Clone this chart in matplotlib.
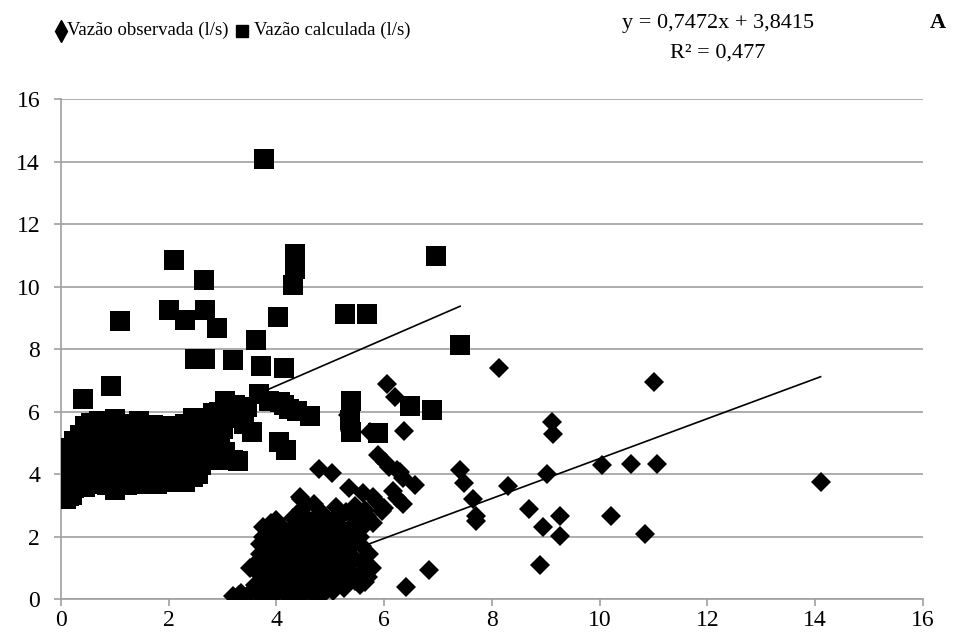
import matplotlib
matplotlib.use("Agg")
import matplotlib.pyplot as plt
from matplotlib.lines import Line2D
import numpy as np

plt.rcParams['font.family'] = ['Liberation Serif', 'DejaVu Serif']

# ---------- DATA (l/s) ----------
# each pair: observed flow, calculated flow
vazao_obs = [
    # scattered points
    7.41, 6.88, 6.48, 5.38, 5.68, 5.28, 4.62, 4.39, 4.24, 4.06,
    3.67, 4.17, 4.04, 3.55, 4.14, 3.72, 3.20, 2.67, 2.49, 3.62,
    4.02, 2.90, 2.31, 2.68, 2.01, 1.10, 0.93, 0.40, 6.96, 4.31,
    4.34, 4.34, 2.65, 2.10, 3.76, 3.45, 3.05, 2.93, 2.54, 3.20,
    2.86, 2.67, 2.39, 3.26, 5.36, 5.39, 5.89, 3.39, 3.12, 3.23,
    2.80, 2.54, 2.22, 1.90, 2.45, 2.83, 3.28, 4.14, 3.87,
    2.75, 2.95, 3.05, 2.70, 3.00, 2.85,
    # dense group
    0.10, 0.10, 0.10, 0.10, 0.10, 0.10, 0.10,
    0.15, 0.15, 0.15, 0.15,
    0.20, 0.20, 0.20,
    0.25, 0.25, 0.25, 0.25,
    0.30, 0.30, 0.30,
    0.35, 0.35, 0.35, 0.35,
    0.40, 0.40, 0.40,
    0.45, 0.45, 0.45, 0.45,
    0.50, 0.50, 0.50,
    0.55, 0.55, 0.55, 0.55, 0.55,
    0.60, 0.60, 0.60, 0.60,
    0.70, 0.70, 0.70, 0.70, 0.70,
    0.78, 0.78, 0.78,
    0.85, 0.85, 0.85, 0.85, 0.85,
    0.92, 0.92, 0.92, 0.92,
    1.00, 1.00, 1.00, 1.00, 1.00, 1.00,
    1.08, 1.08, 1.08,
    1.15, 1.15, 1.15, 1.15, 1.15,
    1.22, 1.22, 1.22, 1.22,
    1.30, 1.30, 1.30, 1.30,
    1.38, 1.38, 1.38,
    1.45, 1.45, 1.45, 1.45, 1.45,
    1.52, 1.52, 1.52,
    1.60, 1.60, 1.60, 1.60,
    1.65, 1.65, 1.65,
    1.70, 1.70, 1.70, 1.70,
    1.78, 1.78, 1.78, 1.78,
    1.85, 1.85, 1.85, 1.85,
    1.92, 1.92,
    2.00, 2.00, 2.00, 2.00, 2.00,
    2.08, 2.08, 2.08,
    2.15, 2.15, 2.15, 2.15,
    2.22, 2.22,
    2.30, 2.30, 2.30, 2.30, 2.30,
    2.38, 2.38,
    2.45, 2.45, 2.45, 2.45,
    2.55, 2.55, 2.55,
    2.60, 2.60,
]
vazao_calc = [
    8.13, 6.05, 6.20, 6.36, 9.12, 9.14, 5.88, 6.01, 6.09, 6.30,
    6.57, 4.79, 5.04, 5.35, 7.41, 7.48, 7.65, 7.70, 7.70, 8.29,
    9.03, 8.68, 8.95, 9.27, 9.27, 8.90, 6.84, 6.40, 11.00, 10.05,
    10.58, 11.06, 10.21, 10.85, 14.10, 6.16, 6.35, 6.00, 4.68, 4.45,
    4.46, 5.68, 5.52, 5.80, 5.74, 5.36, 5.33, 5.61, 5.86, 6.23,
    5.30, 5.49, 4.93, 5.05, 5.80, 5.95, 4.43, 6.23, 6.35,
    4.85, 5.10, 4.70, 5.15, 5.45, 5.65,
    3.20, 3.45, 3.70, 3.95, 4.20, 4.45, 4.70,
    3.30, 3.85, 4.35, 4.85,
    3.35, 3.90, 4.50,
    3.55, 4.05, 4.60, 5.05,
    3.65, 4.20, 4.75,
    3.75, 4.30, 4.90, 5.25,
    3.85, 4.45, 5.10,
    3.60, 4.15, 4.75, 5.55,
    3.95, 4.60, 5.30,
    3.70, 4.05, 4.45, 5.00, 5.65,
    3.80, 4.35, 4.85, 5.45,
    3.85, 4.25, 4.65, 5.15, 5.70,
    3.95, 4.50, 5.05,
    3.65, 4.10, 4.55, 4.95, 5.40,
    3.85, 4.30, 4.75, 5.60,
    3.50, 3.95, 4.35, 4.80, 5.25, 5.78,
    4.05, 4.55, 5.00,
    3.75, 4.20, 4.65, 5.10, 5.60,
    3.65, 4.00, 4.80, 5.30,
    3.85, 4.40, 4.90, 5.45,
    3.95, 4.45, 5.20,
    3.70, 4.15, 4.60, 5.05, 5.72,
    3.85, 4.30, 4.95,
    3.95, 4.45, 4.85, 5.35,
    4.10, 4.60, 5.10,
    3.80, 4.25, 4.70, 5.58,
    3.70, 4.05, 4.55, 5.25,
    3.90, 4.35, 4.95, 5.40,
    4.15, 4.70,
    3.75, 4.20, 4.60, 5.15, 5.55,
    3.85, 4.40, 4.95,
    3.95, 4.45, 4.90, 5.35,
    4.25, 4.75,
    3.75, 4.10, 4.65, 5.20, 5.60,
    4.00, 4.55,
    3.90, 4.40, 4.85, 5.45,
    4.00, 4.60, 5.10,
    4.30, 4.90,
]

# linear trend lines
calc_slope, calc_intercept, calc_r2 = 0.7472, 3.8415, 0.477
obs_slope, obs_intercept = 0.6384, -1.88

axis_ticks = [0, 2, 4, 6, 8, 10, 12, 14, 16]

GRID = "#a0a0a0"

obs = np.array(vazao_obs)
calc = np.array(vazao_calc)

fig = plt.figure(figsize=(9.57, 6.41), dpi=100)
ax = fig.add_axes([0.0637, 0.0651, 0.9007, 0.7800])

# observed (diamonds) drawn first, calculated (squares) on top
ax.plot(calc, obs, linestyle="none", marker="D", markersize=10.2,
        color="black", markeredgewidth=0, zorder=3)
ax.plot(obs, calc, linestyle="none", marker="s", markersize=14.4,
        color="black", markeredgewidth=0, zorder=4)

xl = np.array([obs.min(), obs.max()])
ax.plot(xl, calc_slope * xl + calc_intercept, color="black", lw=1.2, zorder=5)
xd = np.array([calc.min(), calc.max()])
ax.plot(xd, obs_slope * xd + obs_intercept, color="black", lw=1.2, zorder=5)

ax.set_xlim(0, 16)
ax.set_ylim(0, 16)
ax.set_xticks(axis_ticks)
ax.set_yticks(axis_ticks)
ax.set_xticklabels([str(t) for t in axis_ticks])
ax.set_yticklabels([str(t) for t in axis_ticks])
ax.grid(axis="y", color=GRID, lw=1.2)
ax.set_axisbelow(True)
for s in ["top", "right"]:
    ax.spines[s].set_visible(False)
for s in ["left", "bottom"]:
    ax.spines[s].set_color(GRID)
    ax.spines[s].set_linewidth(1.2)
ax.tick_params(axis="both", direction="out", length=5, width=1.2,
               color=GRID, labelsize=17)
ax.tick_params(axis="y", pad=10)
ax.tick_params(axis="x", pad=3)

# legend row and equation
fig.add_artist(Line2D([0.064], [0.952], transform=fig.transFigure, marker="d",
                      markersize=11, color="black", linestyle="none"))
fig.text(0.070, 0.952, "Vazão observada (l/s)", fontsize=13.5, va="center")
fig.add_artist(Line2D([0.253], [0.952], transform=fig.transFigure, marker="s",
                      markersize=9, color="black", linestyle="none"))
fig.text(0.265, 0.952, "Vazão calculada (l/s)", fontsize=13.5, va="center")
fig.text(0.750, 0.964, "y = 0,7472x + 3,8415", fontsize=16, ha="center", va="center")
fig.text(0.750, 0.918, "R² = 0,477", fontsize=16, ha="center", va="center")
fig.text(0.980, 0.964, "A", fontsize=16, fontweight="bold", ha="center", va="center")

fig.savefig("out.png", dpi=100)
